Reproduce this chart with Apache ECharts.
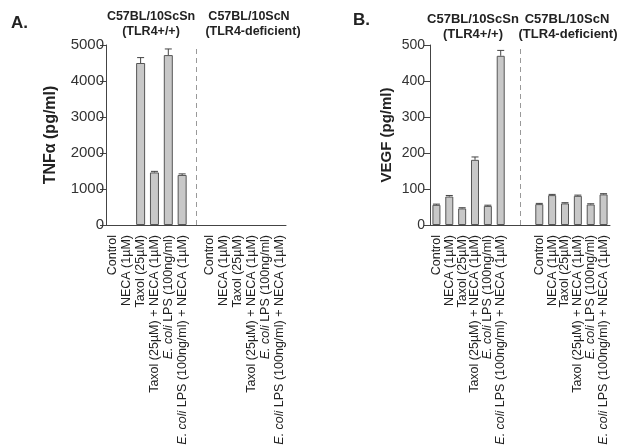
<!DOCTYPE html>
<html>
<head>
<meta charset="utf-8">
<script src="https://cdn.jsdelivr.net/npm/echarts@6/dist/echarts.min.js"></script>
<style>html,body{margin:0;padding:0;background:#fff;}#c{width:617px;height:448px;}</style>
</head>
<body>
<div id="c"></div>
<script>
const treatments = ['Control', 'NECA (1µM)', 'Taxol (25µM)', 'Taxol (25µM) + NECA (1µM)', 'E. coli LPS (100ng/ml)', 'E. coli LPS (100ng/ml) + NECA (1µM)'];
const categoriesA = [...treatments, '', ...treatments];
const categoriesB = [...treatments, '', '', ...treatments];

const tnfSn = [0, 0, 4500, 1460, 4720, 1390];
const tnfSnErr = [0, 0, 150, 30, 170, 30];
const tnfScN = [0, 0, 0, 0, 0, 0];
const tnfScNErr = [0, 0, 0, 0, 0, 0];

const vegfSn = [56, 79, 46, 181, 53, 470];
const vegfSnErr = [2, 3, 2, 8, 2, 15];
const vegfScN = [58, 83, 60, 81, 57, 85];
const vegfScNErr = [2, 2, 2, 2, 2, 2];

const tnfTicks = [0, 1000, 2000, 3000, 4000, 5000];
const vegfTicks = [0, 100, 200, 300, 400, 500];

const strainA = 'C57BL/10ScSn';
const strainAsub = '(TLR4+/+)';
const strainB = 'C57BL/10ScN';
const strainBsub = '(TLR4-deficient)';

const FONT = '"Liberation Sans", Arial, Helvetica, sans-serif';

function barItem(v) {
  return v === 0 ? { value: 0, itemStyle: { borderWidth: 0 } } : v;
}
function buildBars(g1, g2, gapCount) {
  const out = g1.map(barItem);
  for (let i = 0; i < gapCount; i++) out.push(null);
  return out.concat(g2.map(barItem));
}
function buildErr(g1, e1, g2, e2, gapCount) {
  const out = [];
  g1.forEach((v, i) => out.push([i, v, e1[i]]));
  const off = g1.length + gapCount;
  g2.forEach((v, i) => out.push([off + i, v, e2[i]]));
  return out;
}
function renderErr(params, api) {
  const x = api.value(0), v = api.value(1), e = api.value(2);
  if (!e) return null;
  const p0 = api.coord([x, v]);
  const p1 = api.coord([x, v + e]);
  const hw = 3.5;
  const st = { stroke: '#444', lineWidth: 1 };
  return {
    type: 'group',
    children: [
      { type: 'line', shape: { x1: p0[0], y1: p0[1], x2: p1[0], y2: p1[1] }, style: st },
      { type: 'line', shape: { x1: p1[0] - hw, y1: p1[1], x2: p1[0] + hw, y2: p1[1] }, style: st }
    ]
  };
}
function labelFmt(v) {
  return v.indexOf('E. coli') === 0 ? '{i|E. coli}' + v.slice(7) : v;
}
function catAxis(grid, data) {
  return {
    type: 'category', gridIndex: grid, data: data, boundaryGap: true,
    axisLine: { lineStyle: { color: '#444', width: 1 } },
    axisTick: { show: false },
    axisLabel: {
      interval: 0, rotate: 90, fontSize: 12.5, margin: 10, color: '#222', fontFamily: FONT,
      formatter: labelFmt,
      rich: { i: { fontStyle: 'italic', fontSize: 12.5, color: '#222', fontFamily: FONT } }
    }
  };
}
function valAxis(grid, ticks, name, nameGap, fs, offset, labelSize) {
  return {
    type: 'value', gridIndex: grid, min: ticks[0], max: ticks[ticks.length - 1],
    interval: ticks[1] - ticks[0], offset: offset,
    name: name, nameLocation: 'middle', nameGap: nameGap,
    nameTextStyle: { fontWeight: 'bold', fontSize: fs, color: '#222', fontFamily: FONT },
    axisLine: { show: true, lineStyle: { color: '#444', width: 1 } },
    axisTick: { show: true, length: 6, lineStyle: { color: '#444' } },
    axisLabel: { fontSize: labelSize, color: '#333', margin: 2, fontFamily: FONT,
      formatter: (v) => String(v) },
    splitLine: { show: false }
  };
}
const barStyle = { color: '#c8c8c8', borderColor: '#555', borderWidth: 1 };
const dashStyle = { type: [5, 4], color: '#999', width: 1 };

const chart = echarts.init(document.getElementById('c'), null, { renderer: 'canvas' });
chart.setOption({
  animation: false,
  backgroundColor: '#fff',
  grid: [
    { left: 106, right: 331, top: 45, bottom: 223 },
    { left: 430, right: 7, top: 45, bottom: 223 }
  ],
  xAxis: [
    catAxis(0, categoriesA),
    catAxis(1, categoriesB),
    { type: 'value', gridIndex: 0, min: 0, max: categoriesA.length, show: false },
    { type: 'value', gridIndex: 1, min: 0, max: categoriesB.length, show: false }
  ],
  yAxis: [
    valAxis(0, tnfTicks, 'TNFα (pg/ml)', 47, 16, 0, 15),
    valAxis(1, vegfTicks, 'VEGF (pg/ml)', 33, 15, 3, 14)
  ],
  graphic: [
    { type: 'text', left: 11, top: 15, style: { text: 'A.', font: 'bold 17px ' + FONT, fill: '#222' } },
    { type: 'text', left: 353, top: 12, style: { text: 'B.', font: 'bold 17px ' + FONT, fill: '#222' } },
    { type: 'text', x: 151, y: 17, style: { text: strainA, font: 'bold 12.5px ' + FONT, fill: '#222', align: 'center', verticalAlign: 'middle' } },
    { type: 'text', x: 151, y: 32, style: { text: strainAsub, font: 'bold 12.5px ' + FONT, fill: '#222', align: 'center', verticalAlign: 'middle' } },
    { type: 'text', x: 249, y: 17, style: { text: strainB, font: 'bold 12.5px ' + FONT, fill: '#222', align: 'center', verticalAlign: 'middle' } },
    { type: 'text', x: 253, y: 32, style: { text: strainBsub, font: 'bold 12.5px ' + FONT, fill: '#222', align: 'center', verticalAlign: 'middle' } },
    { type: 'text', x: 473, y: 19, style: { text: strainA, font: 'bold 13px ' + FONT, fill: '#222', align: 'center', verticalAlign: 'middle' } },
    { type: 'text', x: 473, y: 34, style: { text: strainAsub, font: 'bold 13px ' + FONT, fill: '#222', align: 'center', verticalAlign: 'middle' } },
    { type: 'text', x: 567, y: 19, style: { text: strainB, font: 'bold 13px ' + FONT, fill: '#222', align: 'center', verticalAlign: 'middle' } },
    { type: 'text', x: 568, y: 34, style: { text: strainBsub, font: 'bold 13px ' + FONT, fill: '#222', align: 'center', verticalAlign: 'middle' } }
  ],
  series: [
    { type: 'bar', xAxisIndex: 0, yAxisIndex: 0, barWidth: 9, itemStyle: barStyle,
      data: buildBars(tnfSn, tnfScN, 1) },
    { type: 'custom', xAxisIndex: 0, yAxisIndex: 0, renderItem: renderErr, encode: { x: 0, y: 1 }, z: 3,
      data: buildErr(tnfSn, tnfSnErr, tnfScN, tnfScNErr, 1) },
    { type: 'bar', xAxisIndex: 1, yAxisIndex: 1, barWidth: 8, itemStyle: barStyle,
      data: buildBars(vegfSn, vegfScN, 2) },
    { type: 'custom', xAxisIndex: 1, yAxisIndex: 1, renderItem: renderErr, encode: { x: 0, y: 1 }, z: 3,
      data: buildErr(vegfSn, vegfSnErr, vegfScN, vegfScNErr, 2) },
    { type: 'line', xAxisIndex: 2, yAxisIndex: 0, data: [], silent: true,
      markLine: { silent: true, symbol: 'none', label: { show: false }, lineStyle: dashStyle,
        data: [{ xAxis: tnfSn.length + 0.5 }] } },
    { type: 'line', xAxisIndex: 3, yAxisIndex: 1, data: [], silent: true,
      markLine: { silent: true, symbol: 'none', label: { show: false }, lineStyle: dashStyle,
        data: [{ xAxis: vegfSn.length + 1 }] } }
  ]
});
</script>
</body>
</html>
